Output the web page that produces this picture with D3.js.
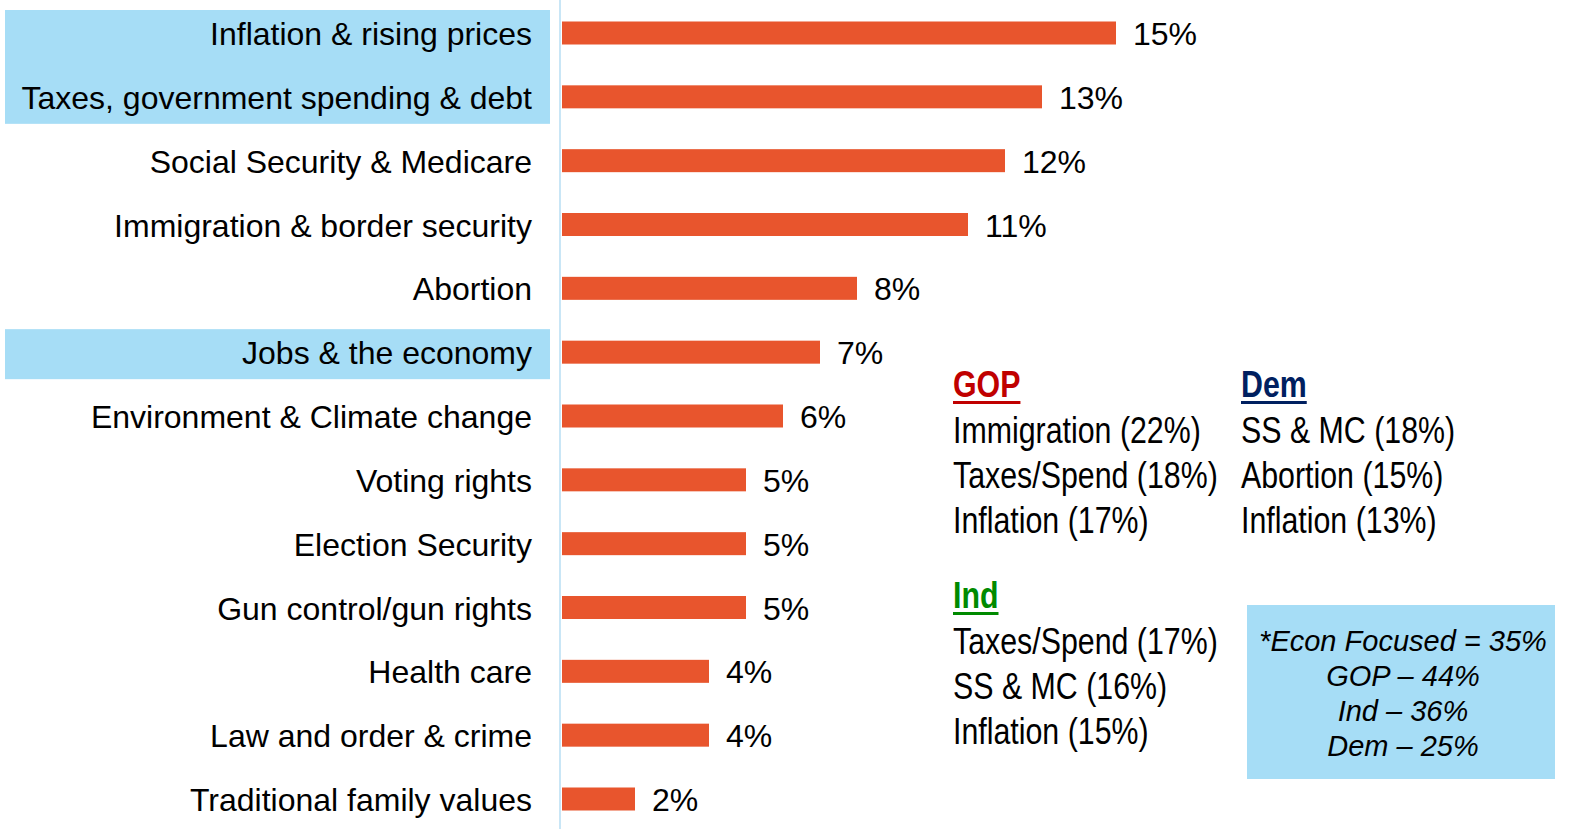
<!DOCTYPE html>
<html>
<head>
<meta charset="utf-8">
<script src="https://cdn.jsdelivr.net/npm/d3@7"></script>
<style>
  body { margin: 0; background: #fff; }
  svg { display: block; font-family: "Liberation Sans", Arial, sans-serif; }
</style>
</head>
<body>
<svg id="chart" width="1571" height="829"></svg>
<script>
// issues, top to bottom
var issues = ["Inflation & rising prices", "Taxes, government spending & debt",
  "Social Security & Medicare", "Immigration & border security", "Abortion",
  "Jobs & the economy", "Environment & Climate change", "Voting rights",
  "Election Security", "Gun control/gun rights", "Health care",
  "Law and order & crime", "Traditional family values"];
var shares = [15, 13, 12, 11, 8, 7, 6, 5, 5, 5, 4, 4, 2];
// economy-focused issues get the blue highlight
var econGroups = [["Inflation & rising prices", "Taxes, government spending & debt"],
  ["Jobs & the economy"]];

var partyNames = ["GOP", "Dem", "Ind"];
var partyTop = {
  GOP: ["Immigration (22%)", "Taxes/Spend (18%)", "Inflation (17%)"],
  Dem: ["SS & MC (18%)", "Abortion (15%)", "Inflation (13%)"],
  Ind: ["Taxes/Spend (17%)", "SS & MC (16%)", "Inflation (15%)"]
};
var econLines = ["*Econ Focused = 35%", "GOP \u2013 44%", "Ind \u2013 36%", "Dem \u2013 25%"];

var svg = d3.select("#chart");
var orange = "#E8552D", hilite = "#A6DDF6";
var squeeze = 0.82; // no narrow font installed, squash Liberation Sans instead

var x = d3.scaleLinear().domain([0, 15]).range([561, 1116]);
var y = d3.scalePoint().domain(issues).range([33, 799]);
var barH = 23;

// highlight boxes behind the economy labels
svg.selectAll("rect.hl")
  .data(econGroups)
  .enter().append("rect")
  .attr("class", "hl")
  .attr("x", 5)
  .attr("width", 545)
  .attr("y", function(g){ return y(g[0]) - 23; })
  .attr("height", function(g){ return y(g[g.length-1]) - y(g[0]) + 50; })
  .attr("fill", hilite);

// axis line
svg.append("line")
  .attr("x1", 560).attr("x2", 560)
  .attr("y1", 0).attr("y2", 829)
  .attr("stroke", "#C9E6F6")
  .attr("stroke-width", 2);

svg.selectAll("rect.bar")
  .data(shares)
  .enter().append("rect")
  .attr("class", "bar")
  .attr("x", x(0) + 1)
  .attr("y", function(d, i){ return y(issues[i]) - barH / 2; })
  .attr("width", function(d){ return x(d) - x(0) - 1; })
  .attr("height", barH)
  .attr("fill", orange);

svg.selectAll("text.cat")
  .data(issues)
  .enter().append("text")
  .attr("class", "cat")
  .attr("x", 532)
  .attr("y", function(d){ return y(d) + 12; })
  .attr("text-anchor", "end")
  .style("font-size", "32px")
  .text(function(d){ return d; });

svg.selectAll("text.val")
  .data(shares)
  .enter().append("text")
  .attr("class", "val")
  .attr("x", function(d){ return x(d) + 17; })
  .attr("y", function(d, i){ return y(issues[i]) + 12; })
  .style("font-size", "32px")
  .text(function(d){ return d + "%"; });

// party blocks
var partyPos = { GOP: [953, 397], Dem: [1241, 397], Ind: [953, 608] };
var partyColor = { GOP: "#C00000", Dem: "#002060", Ind: "#008A00" };

partyNames.forEach(function(p){
  var g = svg.append("g")
    .attr("transform", "translate(" + partyPos[p][0] + "," + partyPos[p][1] + ") scale(" + squeeze + ",1)");
  var h = g.append("text")
    .style("font-size", "37px")
    .style("font-weight", "bold")
    .attr("fill", partyColor[p])
    .text(p);
  var w = h.node().getComputedTextLength();
  g.append("rect")
    .attr("x", 0).attr("y", 4)
    .attr("width", w).attr("height", 3)
    .attr("fill", partyColor[p]);
  g.selectAll("text.item")
    .data(partyTop[p])
    .enter().append("text")
    .attr("class", "item")
    .attr("y", function(d, i){ return 46 + i * 45; })
    .style("font-size", "37px")
    .text(function(d){ return d; });
});

// econ focused box
svg.append("rect")
  .attr("x", 1247).attr("y", 605)
  .attr("width", 308).attr("height", 174)
  .attr("fill", hilite);

svg.selectAll("text.econ")
  .data(econLines)
  .enter().append("text")
  .attr("class", "econ")
  .attr("x", 1403)
  .attr("y", function(d, i){ return 651 + i * 35; })
  .attr("text-anchor", "middle")
  .style("font-size", "29px")
  .style("font-style", "italic")
  .text(function(d){ return d; });
</script>
</body>
</html>
